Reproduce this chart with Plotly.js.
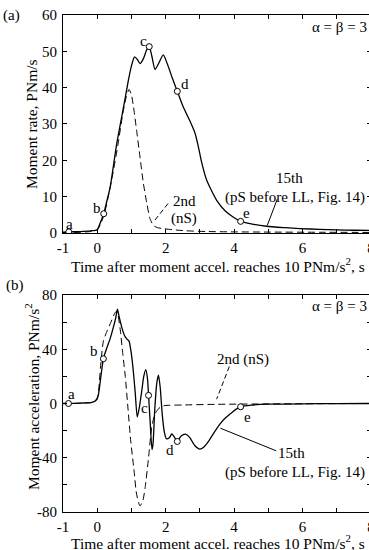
<!DOCTYPE html>
<html>
<head>
<meta charset="utf-8">
<script src="https://cdn.plot.ly/plotly-3.0.1.min.js"></script>
<style>
html,body{margin:0;padding:0;overflow:hidden;background:#fff;}
#chart{width:373px;height:550px;}
</style>
</head>
<body>
<div id="chart"></div>
<script>
// ---- Data ----
// (a) Moment rate, PNm/s — 15th (solid)
const rate15X = [-1, -0.83, -0.5, -0.2, 0, 0.08, 0.19, 0.3, 0.38, 0.57, 0.77, 0.91, 1.0, 1.09, 1.17, 1.25, 1.35, 1.45, 1.52, 1.6, 1.69, 1.8, 1.93, 2.05, 2.2, 2.34, 2.5, 2.7, 2.86, 2.95, 3.05, 3.2, 3.49, 3.75, 3.97, 4.19, 4.5, 4.95, 5.5, 5.92, 6.5, 7, 7.5, 8];
const rate15Y = [0.2, 0.3, 0.4, 0.6, 0.9, 2.6, 5.3, 9.5, 12.7, 24.6, 34.7, 42, 46, 48.5, 47.8, 46.6, 48, 50.5, 51.3, 48.5, 45, 46.8, 49, 46.5, 42.5, 39, 35, 31, 27.4, 24, 19.5, 14.5, 9, 6, 4.4, 3.2, 2.5, 1.85, 1.45, 1.2, 1.0, 0.85, 0.75, 0.7];
// (a) 2nd (dashed)
const rate2X = [-1, -0.5, -0.2, 0, 0.1, 0.2, 0.3, 0.45, 0.6, 0.75, 0.85, 0.93, 1.0, 1.06, 1.15, 1.25, 1.35, 1.45, 1.54, 1.64, 1.75, 1.93, 2.2, 2.6, 3.2, 4, 5, 6.5, 8];
const rate2Y = [0.1, 0.2, 0.4, 0.9, 2.5, 5, 9, 16, 24, 33, 37.5, 39.5, 38, 34.7, 28.3, 20.9, 13.6, 8.1, 4, 2.1, 1.5, 1.2, 0.9, 0.6, 0.4, 0.3, 0.25, 0.2, 0.15];
// (b) Moment acceleration, PNm/s^2 — 15th (solid)
const acc15X = [-1, -0.84, -0.5, -0.16, -0.05, 0.03, 0.09, 0.18, 0.28, 0.38, 0.48, 0.54, 0.59, 0.64, 0.72, 0.8, 0.87, 0.93, 0.99, 1.05, 1.11, 1.17, 1.23, 1.3, 1.36, 1.42, 1.47, 1.5, 1.55, 1.6, 1.63, 1.68, 1.74, 1.79, 1.84, 1.9, 1.96, 2.02, 2.1, 2.18, 2.26, 2.34, 2.45, 2.58, 2.7, 2.85, 3.0, 3.12, 3.25, 3.4, 3.59, 3.75, 3.88, 4.05, 4.19, 4.5, 5, 6, 7, 8];
const acc15Y = [0, 0, 0.3, 0.8, 2, 6, 16.5, 33, 41, 48, 57, 63, 69.5, 64, 56, 50, 47.5, 46, 38, 25, 8, -10, -3, 9, 20, 25, 18, 6, -15, -34, -30, -5, 15, 21, 12, -8, -21, -26, -25.5, -22.5, -25, -28, -24, -22.6, -25, -31, -33.7, -32, -28, -22, -15, -10.5, -7.8, -4.3, -2.4, -1.2, -0.5, -0.2, -0.1, 0];
// (b) 2nd (dashed)
const acc2X = [-1, -0.5, -0.1, 0, 0.05, 0.1, 0.18, 0.28, 0.4, 0.5, 0.56, 0.6, 0.67, 0.75, 0.82, 0.9, 0.98, 1.07, 1.15, 1.25, 1.33, 1.4, 1.5, 1.59, 1.67, 1.74, 1.85, 1.98, 2.5, 3.5, 5, 8];
const acc2Y = [0, 0.2, 1, 3, 12, 28, 46, 53, 60, 66, 68, 66, 55, 36, 20, -4, -28, -48, -66.9, -75.5, -72, -62, -39.8, -17.7, -9, -5.4, -2.5, -1.5, -1.1, -0.6, -0.3, 0];
// Labelled points a–e on the 15th curves
const ptLabels = ['a', 'b', 'c', 'd', 'e'];
const rateMarkX = [-0.83, 0.19, 1.52, 2.34, 4.19];
const rateMarkY = [0.3, 5.3, 51.3, 39, 3.2];
const accMarkX = [-0.84, 0.18, 1.5, 2.34, 4.19];
const accMarkY = [0, 33, 6, -28, -2.4];
// Tick labels
const xTickVals = [-1, 0, 2, 4, 6, 8];
const xTickText = ['-1', '0', '2', '4', '6', '8'];
const yTopTickVals = [0, 10, 20, 30, 40, 50, 60];
const yBotTickVals = [-80, -40, 0, 40, 80];
const yBotTickText = ['-80', '-40', '0', '40', '80'];

// ---- Styles ----
const FONT = 'Liberation Serif';
const solid = {color: '#000', width: 1.3, shape: 'spline', smoothing: 0.6};
const dashed = {color: '#000', width: 1, dash: '7px,4px', shape: 'spline', smoothing: 0.6};
const markerStyle = {symbol: 'circle', size: 6, color: '#fff', line: {width: 1, color: '#000'}};

const traces = [
  {x: rate2X, y: rate2Y, xaxis: 'x', yaxis: 'y', mode: 'lines', line: dashed, hoverinfo: 'skip'},
  {x: rate15X, y: rate15Y, xaxis: 'x', yaxis: 'y', mode: 'lines', line: solid, hoverinfo: 'skip'},
  {x: rateMarkX, y: rateMarkY, xaxis: 'x', yaxis: 'y', mode: 'markers', marker: markerStyle},
  {x: acc2X, y: acc2Y, xaxis: 'x2', yaxis: 'y2', mode: 'lines', line: dashed, hoverinfo: 'skip'},
  {x: acc15X, y: acc15Y, xaxis: 'x2', yaxis: 'y2', mode: 'lines', line: solid, hoverinfo: 'skip'},
  {x: accMarkX, y: accMarkY, xaxis: 'x2', yaxis: 'y2', mode: 'markers', marker: markerStyle}
];

const tickFont = {family: FONT, size: 15, color: '#000'};
function xAxis(anchor) {
  return {anchor: anchor, range: [-1, 8], tickvals: xTickVals, ticktext: xTickText,
    ticks: 'inside', ticklen: 4, tickwidth: 1, tickcolor: '#000', mirror: 'ticks',
    minor: {ticks: 'inside', ticklen: 4, tickwidth: 1, tickcolor: '#000', dtick: 1, tick0: 0, showgrid: false},
    showline: true, linecolor: '#000', linewidth: 1, showgrid: false, zeroline: false,
    ticklabeloverflow: 'allow', ticklabelstandoff: 1, tickfont: tickFont, fixedrange: true};
}
function yAxis(anchor, domain, range, vals, text, minorStep) {
  const a = {anchor: anchor, domain: domain, range: range, tickvals: vals,
    ticks: 'inside', ticklen: 4, tickwidth: 1, tickcolor: '#000', mirror: 'ticks',
    showline: true, linecolor: '#000', linewidth: 1, showgrid: false, zeroline: false,
    ticklabelstandoff: 2, tickfont: tickFont, fixedrange: true};
  if (text) a.ticktext = text;
  if (minorStep) a.minor = {ticks: 'inside', ticklen: 4, tickwidth: 1, tickcolor: '#000', dtick: minorStep, tick0: 0, showgrid: false};
  return a;
}

const txt = (x, y, t, xr, yr, extra) => Object.assign({x: x, y: y, xref: xr, yref: yr, text: t, showarrow: false, xanchor: 'center', yanchor: 'middle', font: {family: FONT, size: 15, color: '#000'}}, extra || {});
const titleFont = {family: FONT, size: 15.5, color: '#000'};

const annotations = [];
// curve point labels
const topLblPos = [[-0.82, 2.6], [-0.02, 7], [1.35, 52.9], [2.57, 41], [4.37, 5.6]];
const botLblPos = [[-0.75, 6.9], [-0.08, 38.9], [1.38, -3], [2.13, -34.2], [4.39, -9.6]];
ptLabels.forEach((l, i) => {
  annotations.push(txt(topLblPos[i][0], topLblPos[i][1], l, 'x', 'y'));
  annotations.push(txt(botLblPos[i][0], botLblPos[i][1], l, 'x2', 'y2'));
});
annotations.push(
  txt(2.54, 8.7, '2nd', 'x', 'y'),
  txt(2.54, 4.0, '(nS)', 'x', 'y'),
  txt(5.62, 15, '15th', 'x', 'y'),
  txt(5.78, 9.75, '(pS before LL, Fig. 14)', 'x', 'y'),
  txt(7.93, 56.6, 'α = β = 3', 'x', 'y', {xanchor: 'right'}),
  txt(4.27, 32.8, '2nd (nS)', 'x2', 'y2'),
  txt(5.69, -36.2, '15th', 'x2', 'y2'),
  txt(5.78, -50.9, '(pS before LL, Fig. 14)', 'x2', 'y2'),
  txt(7.93, 72.1, 'α = β = 3', 'x2', 'y2', {xanchor: 'right'}),
  // panel letters and axis titles (paper coords)
  txt(-0.1656, 1.0, '(a)', 'paper', 'paper'),
  txt(-0.156, 0.4567, '(b)', 'paper', 'paper'),
  txt(-0.1006, 0.7807, 'Moment rate, PNm/s', 'paper', 'paper', {textangle: -90, font: titleFont}),
  txt(-0.1006, 0.2314, 'Moment acceleration, PNm/s<sup>2</sup>', 'paper', 'paper', {textangle: -90, font: titleFont}),
  txt(0.503, 0.497, 'Time after moment accel. reaches 10 PNm/s<sup>2</sup>, s', 'paper', 'paper', {font: titleFont}),
  txt(0.503, -0.06, 'Time after moment accel. reaches 10 PNm/s<sup>2</sup>, s', 'paper', 'paper', {font: titleFont})
);

const shapes = [
  {type: 'line', xref: 'x', yref: 'y', x0: 2.07, y0: 8.1, x1: 1.64, y1: 3.0, line: {color: '#000', width: 1, dash: '5px,3px'}},
  {type: 'line', xref: 'x', yref: 'y', x0: 5.26, y0: 9.3, x1: 4.97, y1: 2.1, line: {color: '#000', width: 1}},
  {type: 'line', xref: 'x2', yref: 'y2', x0: 3.86, y0: 27.3, x1: 3.49, y1: 3.2, line: {color: '#000', width: 1, dash: '5px,3px'}},
  {type: 'line', xref: 'x2', yref: 'y2', x0: 5.23, y0: -34.9, x1: 3.6, y1: -18.2, line: {color: '#000', width: 1}}
];

const layout = {
  width: 373, height: 550,
  margin: {l: 63, r: 2, t: 15, b: 38},
  paper_bgcolor: '#fff', plot_bgcolor: '#fff',
  showlegend: false,
  font: {family: FONT, size: 15, color: '#000'},
  xaxis: xAxis('y'),
  yaxis: yAxis('x', [0.5614, 1], [0, 60], yTopTickVals),
  xaxis2: xAxis('y2'),
  yaxis2: yAxis('x2', [0, 0.4366], [-80, 80], yBotTickVals, yBotTickText, 20),
  annotations: annotations,
  shapes: shapes
};

Plotly.newPlot('chart', traces, layout, {staticPlot: true, displayModeBar: false});
</script>
</body>
</html>
